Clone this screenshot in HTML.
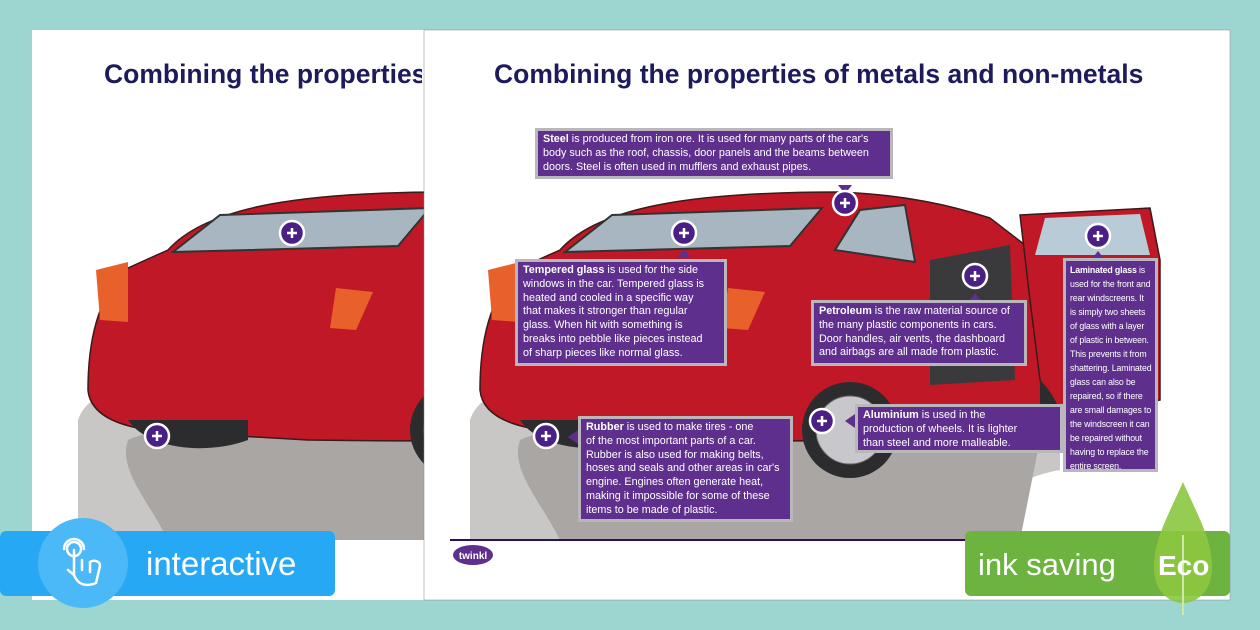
<!DOCTYPE html>
<html><head><meta charset="utf-8"><style>
html,body{margin:0;padding:0;width:1260px;height:630px;overflow:hidden;background:#9dd5d1;font-family:"Liberation Sans",sans-serif}
svg{position:absolute;left:0;top:0}
.box{position:absolute;background:#5e2f8c;border:3px solid #b9b6bc;color:#fff;font-size:10.8px;line-height:13.8px;padding:2px 5px;box-sizing:border-box;font-family:"Liberation Sans",sans-serif;white-space:nowrap;overflow:hidden}
.box b{font-weight:bold}
.t{position:absolute;color:#1d1b5c;font-weight:bold;font-size:26.5px;white-space:nowrap;font-family:"Liberation Sans",sans-serif}
</style></head><body>
<svg width="1260" height="630" viewBox="0 0 1260 630">
<defs>
<g id="car">
 <path d="M470,420 C480,390 520,380 600,385 L900,390 C980,380 1030,395 1060,410 L1060,470 C1000,480 980,520 960,540 L470,540 Z" fill="#c9c7c5"/>
 <path d="M520,440 C560,420 700,430 820,440 C900,445 1000,430 1040,440 L1020,540 L560,540 C540,500 510,470 520,440Z" fill="#a9a6a3"/>
 <path d="M480,390 C480,330 495,290 520,268 L560,250 C600,205 700,192 840,192 C905,195 950,205 990,218 L1025,245 L1065,255 L1065,405 L1000,420 C900,442 860,442 700,440 L560,432 C505,428 482,412 480,390 Z" fill="#c01826" stroke="#3a1a1a" stroke-width="1.5"/>
 <path d="M1020,215 L1150,208 L1160,260 L1160,400 L1060,420 L1040,380 L1030,300 Z" fill="#c01826" stroke="#3a1a1a" stroke-width="1.5"/>
 <path d="M1035,255 L1045,218 L1140,214 L1150,255 Z" fill="#b8cbd6"/>
 <path d="M565,252 L612,215 L822,208 L790,246 Z" fill="#a7b6c0" stroke="#333" stroke-width="2"/>
 <path d="M835,250 L860,210 L905,205 L915,262 Z" fill="#a7b6c0" stroke="#333" stroke-width="2"/>
 <path d="M930,260 L1010,245 L1015,380 L930,385 Z" fill="#3a3a3d"/>
 <path d="M488,270 L520,262 L520,322 L492,320 Z" fill="#e8612a"/>
 <path d="M728,288 L765,292 L748,330 L722,328 Z" fill="#e8612a"/>
 <circle cx="850" cy="430" r="48" fill="#2c2c2e"/><circle cx="850" cy="430" r="34" fill="#c8c8cc" stroke="#666"/>
 <path d="M520,420 C540,450 600,455 640,440 L640,420 Z" fill="#2c2c2e"/>
 <path d="M1040,380 C1060,400 1062,420 1060,420 L1040,425 Z" fill="#2c2c2e"/>
</g>
<g id="plus"><circle r="12" fill="#4a1f86" stroke="#fff" stroke-width="2.5"/><path d="M-5,0H5M0,-5V5" stroke="#fff" stroke-width="2.5"/></g>
</defs>
<rect x="32" y="30" width="808" height="570" fill="#fff"/>
<g transform="translate(-392,0)"><use href="#car"/></g>
<use href="#plus" x="292" y="233"/><use href="#plus" x="157" y="436"/>
<rect x="424" y="30" width="806" height="570" fill="#fff" stroke="#888" stroke-width="0.5"/>
<clipPath id="cp"><rect x="424" y="30" width="806" height="510"/></clipPath>
<g clip-path="url(#cp)"><use href="#car"/></g>
<line x1="450" y1="540" x2="1230" y2="540" stroke="#2a1060" stroke-width="2"/>
<ellipse cx="473" cy="555" rx="20" ry="10" fill="#5e2f8c"/>
<text x="473" y="559" font-size="10" fill="#fff" font-weight="bold" text-anchor="middle" font-family="Liberation Sans">twinkl</text>
<path d="M838,185 L852,185 L845,194Z" fill="#5e2f8c"/>
<path d="M677,258 L691,258 L684,249Z" fill="#5e2f8c"/>
<path d="M968,302 L982,302 L975,293Z" fill="#5e2f8c"/>
<path d="M1091,260 L1105,260 L1098,251Z" fill="#5e2f8c"/>
<path d="M578,430 L578,444 L568,437Z" fill="#5e2f8c"/>
<path d="M855,414 L855,428 L845,421Z" fill="#5e2f8c"/>
<use href="#plus" x="845" y="203"/><use href="#plus" x="684" y="233"/><use href="#plus" x="975" y="276"/>
<use href="#plus" x="1098" y="236"/><use href="#plus" x="546" y="436"/><use href="#plus" x="822" y="421"/>
<rect x="0" y="531" width="335" height="65" rx="6" fill="#27a8f5"/>
<circle cx="83" cy="563" r="45" fill="#4bb8f7"/>
<g fill="none" stroke="#fff" stroke-width="2.5" stroke-linecap="round"><circle cx="74" cy="549" r="7"/><path d="M64,549 a10,10 0 1 1 20,0"/><path d="M74,550 V575 M74,575 L68,570 M74,552 V575 C78,585 86,587 96,583 L100,566 C100,560 92,560 90,562 M82,560 V570 M90,562 V572"/></g>
<text x="146" y="575" font-size="33" fill="#fff" font-family="Liberation Sans">interactive</text>
<rect x="965" y="531" width="265" height="65" rx="6" fill="#6db33f"/>
<path d="M1183,482 C1200,520 1212,540 1212,568 C1212,590 1198,603 1183,603 C1168,603 1154,590 1154,568 C1154,540 1166,520 1183,482Z" fill="#8cc63f" opacity="0.9"/>
<line x1="1183" y1="535" x2="1183" y2="615" stroke="#cfe8a8" stroke-width="2"/>
<text x="978" y="575" font-size="31" fill="#fff" font-family="Liberation Sans">ink saving</text>
<text x="1158" y="575" font-size="28" fill="#fff" font-weight="bold" font-family="Liberation Sans">Eco</text>
</svg>
<div class="t" style="left:104px;top:59px;width:318px;overflow:hidden">Combining the properties of metals and non-metals</div>
<div class="t" style="left:494px;top:59px">Combining the properties of metals and non-metals</div>
<div class="box" style="left:535px;top:128px;width:358px;height:51px"><b>Steel</b> is produced from iron ore. It is used for many parts of the car's<br>body such as the roof, chassis, door panels and the beams between<br>doors. Steel is often used in mufflers and exhaust pipes.</div>
<div class="box" style="left:515px;top:259px;width:212px;height:107px"><b>Tempered glass</b> is used for the side<br>windows in the car. Tempered glass is<br>heated and cooled in a specific way<br>that makes it stronger than regular<br>glass. When hit with something is<br>breaks into pebble like pieces instead<br>of sharp pieces like normal glass.</div>
<div class="box" style="left:811px;top:300px;width:216px;height:66px"><b>Petroleum</b> is the raw material source of<br>the many plastic components in cars.<br>Door handles, air vents, the dashboard<br>and airbags are all made from plastic.</div>
<div class="box" style="left:1063px;top:258px;width:95px;height:214px;font-size:8.8px;line-height:14px;padding:2px 4px;letter-spacing:-0.15px"><b>Laminated glass</b> is<br>used for the front and<br>rear windscreens. It<br>is simply two sheets<br>of glass with a layer<br>of plastic in between.<br>This prevents it from<br>shattering. Laminated<br>glass can also be<br>repaired, so if there<br>are small damages to<br>the windscreen it can<br>be repaired without<br>having to replace the<br>entire screen.</div>
<div class="box" style="left:578px;top:416px;width:215px;height:106px"><b>Rubber</b> is used to make tires - one<br>of the most important parts of a car.<br>Rubber is also used for making belts,<br>hoses and seals and other areas in car's<br>engine. Engines often generate heat,<br>making it impossible for some of these<br>items to be made of plastic.</div>
<div class="box" style="left:855px;top:404px;width:208px;height:49px"><b>Aluminium</b> is used in the<br>production of wheels. It is lighter<br>than steel and more malleable.</div>
</body></html>
